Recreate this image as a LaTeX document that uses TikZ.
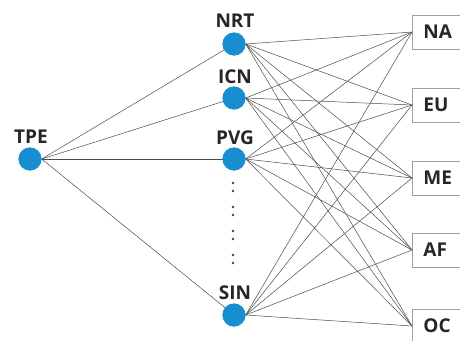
\documentclass[tikz,border=0pt]{standalone}
\usepackage{fontspec}
\setmainfont{Open Sans}
\definecolor{hubblue}{RGB}{22,142,208}
\definecolor{linkgray}{RGB}{75,75,75}
\definecolor{boxgray}{RGB}{160,160,160}
\begin{document}
\begin{tikzpicture}[x=1pt,y=-1pt,
  hub/.style={circle,fill=hubblue,minimum size=23pt,inner sep=0pt},
  lab/.style={font=\fontsize{19}{19}\selectfont\bfseries,text=black!85,inner sep=0pt},
  region/.style={draw=boxgray,line width=0.8pt,fill=white,anchor=west,
    minimum height=34pt,inner xsep=11pt,text width=40pt,align=left,
    font=\fontsize{19}{19}\selectfont\bfseries,text=black!85},
  link/.style={draw=linkgray,line width=0.5pt},
  dotmark/.style={circle,fill=black!75,minimum size=2.6pt,inner sep=0pt}]
\useasboundingbox (0,0) rectangle (460,340);
\clip (0,0) rectangle (460,340);

% origin and gateway airports
\node[hub] (tpe) at (30,159) {};
\node[hub] (nrt) at (234,44) {};
\node[hub] (icn) at (234,98) {};
\node[hub] (pvg) at (234,159) {};
\node[hub] (sin) at (234,315) {};

% destination regions
\node[region] (na) at (412,32) {NA};
\node[region] (eu) at (412,105) {EU};
\node[region] (me) at (412,178) {ME};
\node[region] (af) at (412,250) {AF};
\node[region] (oc) at (412,326) {OC};

% links
\foreach \g in {nrt,icn,pvg,sin}{
  \draw[link] (tpe.east) -- (\g.center);
  \foreach \r in {na,eu,me,af,oc}{
    \draw[link] (\g.east) -- (\r.west);
  }
}

% redraw hubs over the links
\foreach \g in {tpe,nrt,icn,pvg,sin}{
  \fill[hubblue] (\g.center) circle (11.5);
}

% labels
\node[lab] (tpelab) at (31,137) {TPE};
\node[lab] (nrtlab) at (235,21) {NRT};
\node[lab] (icnlab) at (235,77) {ICN};
\node[lab] (pvglab) at (235,138) {PVG};
\node[lab] (sinlab) at (235,293) {SIN};

% vertical ellipsis between PVG and SIN
\foreach \y [count=\i] in {183,191,207,215,231,239,255,263}{
  \node[dotmark] (dot\i) at (233,\y) {};
}
\end{tikzpicture}
\end{document}
